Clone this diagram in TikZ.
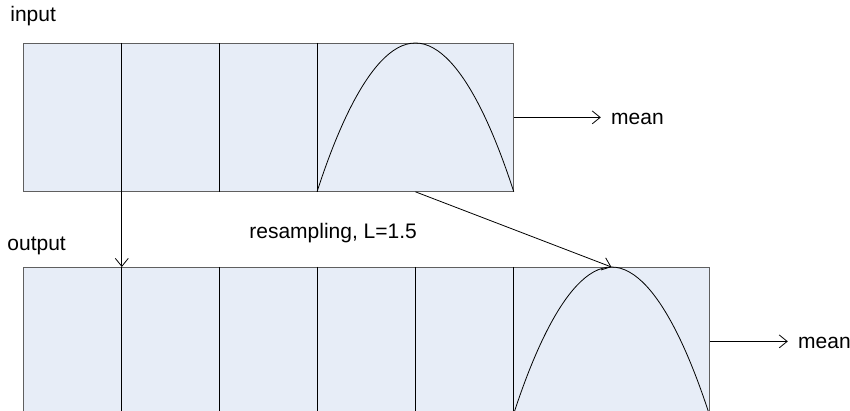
\documentclass[tikz,border=0pt]{standalone}
\usepackage{fontspec}
\setmainfont{Liberation Sans}
\usepackage{xcolor}
\usepackage{tikz}
\usetikzlibrary{arrows.meta,positioning}
\definecolor{cellfill}{RGB}{231,237,247}
\definecolor{edgegray}{RGB}{95,95,95}

\begin{document}
\begin{tikzpicture}[x=1pt,y=-1pt,line width=0.8pt,
    cell/.style={draw=edgegray,fill=cellfill,inner sep=0pt,anchor=north west,minimum width=98pt,minimum height=148pt},
    wide/.style={cell,minimum width=196pt},
    lbl/.style={inner sep=0pt,font=\fontsize{21}{25}\selectfont},
    meanlbl/.style={lbl,inner xsep=10pt,yshift=-1.5pt},
    conn/.style={-{Straight Barb[length=8pt,width=13pt]}}]
    \useasboundingbox (0,0) rectangle (850,411);
    \clip (0,0) rectangle (850,411);
    \foreach \i/\x in {1/23,2/121,3/219}{
      \node[cell] (in\i) at (\x,43) {};
    }
    \node[wide] (in4) at (317,43) {};
    \foreach \i/\x in {1/23,2/121,3/219,4/317,5/415}{
      \node[cell] (out\i) at (\x,267) {};
    }
    \node[wide] (out6) at (513,267) {};
    \foreach \i in {1,2,3}{
      \draw (in\i.north east)--(in\i.south east);
    }
    \foreach \i in {1,...,5}{
      \draw (out\i.north east)--(out\i.south east);
    }
    \draw (in4.south west) parabola bend (in4.north) (in4.south east);
    \draw (out6.south west) parabola bend (out6.north) (out6.south east);
    \node[lbl,anchor=base west] (inlbl) at (10,22) {input};
    \node[lbl,anchor=base west] (outlbl) at (7,251) {output};
    \node[lbl,anchor=base west] (resamp) at (249,239) {resampling, L=1.5};
    \node[meanlbl,right=87pt of in4] (mein) {mean};
    \node[meanlbl,right=78pt of out6] (meout) {mean};
    \draw[conn] (in4) -- (in4 -| mein.west);
    \draw[conn] (out6) -- (out6 -| meout.west);
    \draw[conn] (in1.south east) -- (out1.north east);
    \draw[conn] (in4.south) -- (out6.north);
  \end{tikzpicture}
\end{document}
